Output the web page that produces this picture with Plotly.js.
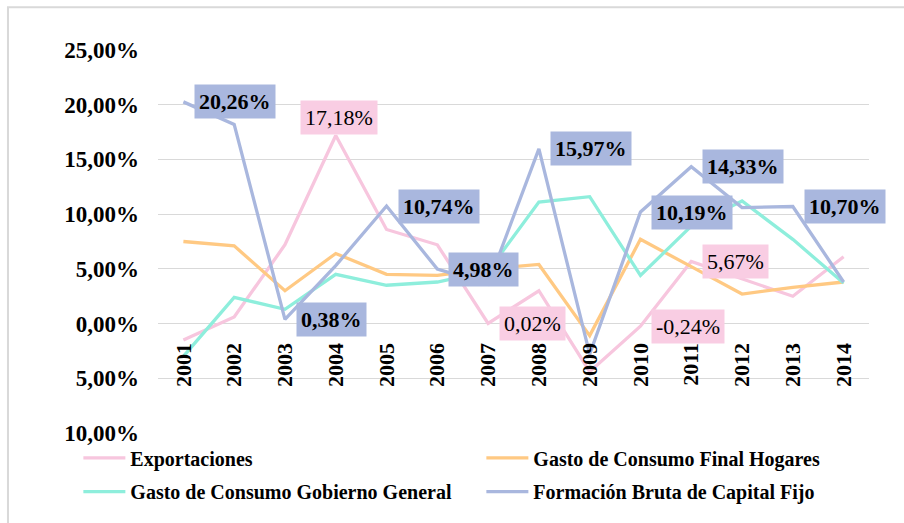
<!DOCTYPE html>
<html>
<head>
<meta charset="utf-8">
<script src="https://cdn.plot.ly/plotly-3.0.1.min.js"></script>
<style>
  html, body { margin: 0; padding: 0; background: #ffffff; }
  #chart { width: 904px; height: 523px; }
</style>
</head>
<body>
<div id="chart"></div>
<script>
// ---- data ----
const years = ['2001','2002','2003','2004','2005','2006','2007','2008','2009','2010','2011','2012','2013','2014'];
const exportaciones = [-1.5, 0.6, 7.2, 17.18, 8.6, 7.2, 0.02, 3.0, -4.4, -0.24, 5.67, 4.1, 2.5, 6.1];
const gastoHogares  = [7.5, 7.1, 3.0, 6.4, 4.5, 4.4, 5.0, 5.4, -1.1, 7.7, 5.2, 2.7, 3.3, 3.8];
const gastoGobierno = [-3.0, 2.4, 1.3, 4.5, 3.5, 3.8, 4.8, 11.1, 11.6, 4.4, 8.9, 11.2, 7.7, 3.7];
const formacion     = [20.26, 18.2, 0.38, 5.3, 10.74, 4.98, 3.6, 15.97, -2.8, 10.19, 14.33, 10.6, 10.70, 3.8];
const seriesNames = ['Exportaciones', 'Gasto de Consumo Final Hogares', 'Gasto de Consumo Gobierno General', 'Formación Bruta de Capital Fijo'];
const yTickVals = [-10, -5, 0, 5, 10, 15, 20, 25];
const yTickText = ['10,00%', '5,00%', '0,00%', '5,00%', '10,00%', '15,00%', '20,00%', '25,00%'];
// years that carry a data label
const formacionLabelYears = ['2001','2003','2005','2006','2008','2010','2011','2013'];
const exportLabelYears = ['2004','2007','2010','2011'];
const exportAboveYears = ['2004'];

// ---- styles ----
const colors = ['#F7C6DE', '#FFC983', '#8EEEDC', '#A9B7DE'];
const legendRow = ['legend', 'legend', 'legend2', 'legend2'];
const serif = 'Liberation Serif';

const allSeries = [exportaciones, gastoHogares, gastoGobierno, formacion];
const traces = allSeries.map((vals, i) => ({
  type: 'scatter', mode: 'lines', x: years, y: vals, name: seriesNames[i],
  legend: legendRow[i],
  line: { color: colors[i], width: 3.3 }, hoverinfo: 'skip'
}));

function fmt(v) { return v.toFixed(2).replace('.', ',') + '%'; }

const annotations = [];
formacionLabelYears.forEach(yr => {
  const i = years.indexOf(yr);
  const v = formacion[i];
  annotations.push({
    x: i, y: v, xref: 'x', yref: 'y', text: fmt(v), showarrow: false,
    xanchor: 'left', yanchor: 'middle', xshift: 11,
    bgcolor: '#A9B7DE', borderpad: 4,
    font: { family: serif, size: 22, color: '#000000', weight: 'bold' }
  });
});
exportLabelYears.forEach(yr => {
  const i = years.indexOf(yr);
  const v = exportaciones[i];
  const above = exportAboveYears.includes(yr);
  annotations.push({
    x: i, y: v, xref: 'x', yref: 'y', text: fmt(v), showarrow: false,
    xanchor: above ? 'center' : 'left', yanchor: above ? 'bottom' : 'middle',
    xshift: above ? 3 : 11, yshift: above ? 1 : 0,
    bgcolor: '#F9CDE3', borderpad: 4,
    font: { family: serif, size: 22, color: '#000000' }
  });
});

const legendCommon = {
  orientation: 'h', xanchor: 'left', yanchor: 'top',
  entrywidth: 346, entrywidthmode: 'pixels', itemwidth: 42,
  traceorder: 'normal',
  font: { family: serif, size: 20, color: '#000000', weight: 'bold' },
  bgcolor: 'rgba(0,0,0,0)'
};

const layout = {
  width: 904, height: 523,
  margin: { l: 158, r: 35, t: 50, b: 88 },
  paper_bgcolor: '#ffffff', plot_bgcolor: '#ffffff',
  showlegend: true,
  font: { family: serif },
  xaxis: {
    type: 'category', range: [-0.5, 13.5], anchor: 'free', position: 10 / 35,
    showgrid: false, zeroline: false, showline: false,
    ticks: '', tickangle: -90, ticklabelstandoff: 14,
    tickfont: { family: serif, size: 22, color: '#000000', weight: 'bold' }
  },
  yaxis: {
    range: [-10, 25], tickvals: yTickVals, ticktext: yTickText,
    showgrid: true, gridcolor: '#D9D9D9', gridwidth: 1,
    zeroline: false, showline: false, ticks: '', ticklabelstandoff: 18,
    tickfont: { family: serif, size: 23, color: '#000000', weight: 'bold' }
  },
  legend: Object.assign({}, legendCommon, { x: -0.112, y: -0.014 }),
  legend2: Object.assign({}, legendCommon, { x: -0.112, y: -0.102 }),
  annotations: annotations,
  shapes: [{
    type: 'rect', xref: 'paper', yref: 'paper',
    x0: -0.211, x1: 1.2, y0: -0.4, y1: 1.1117,
    line: { color: '#D9D9D9', width: 2 }, layer: 'below'
  }]
};

Plotly.newPlot('chart', traces, layout, { displayModeBar: false, staticPlot: true });
</script>
</body>
</html>
